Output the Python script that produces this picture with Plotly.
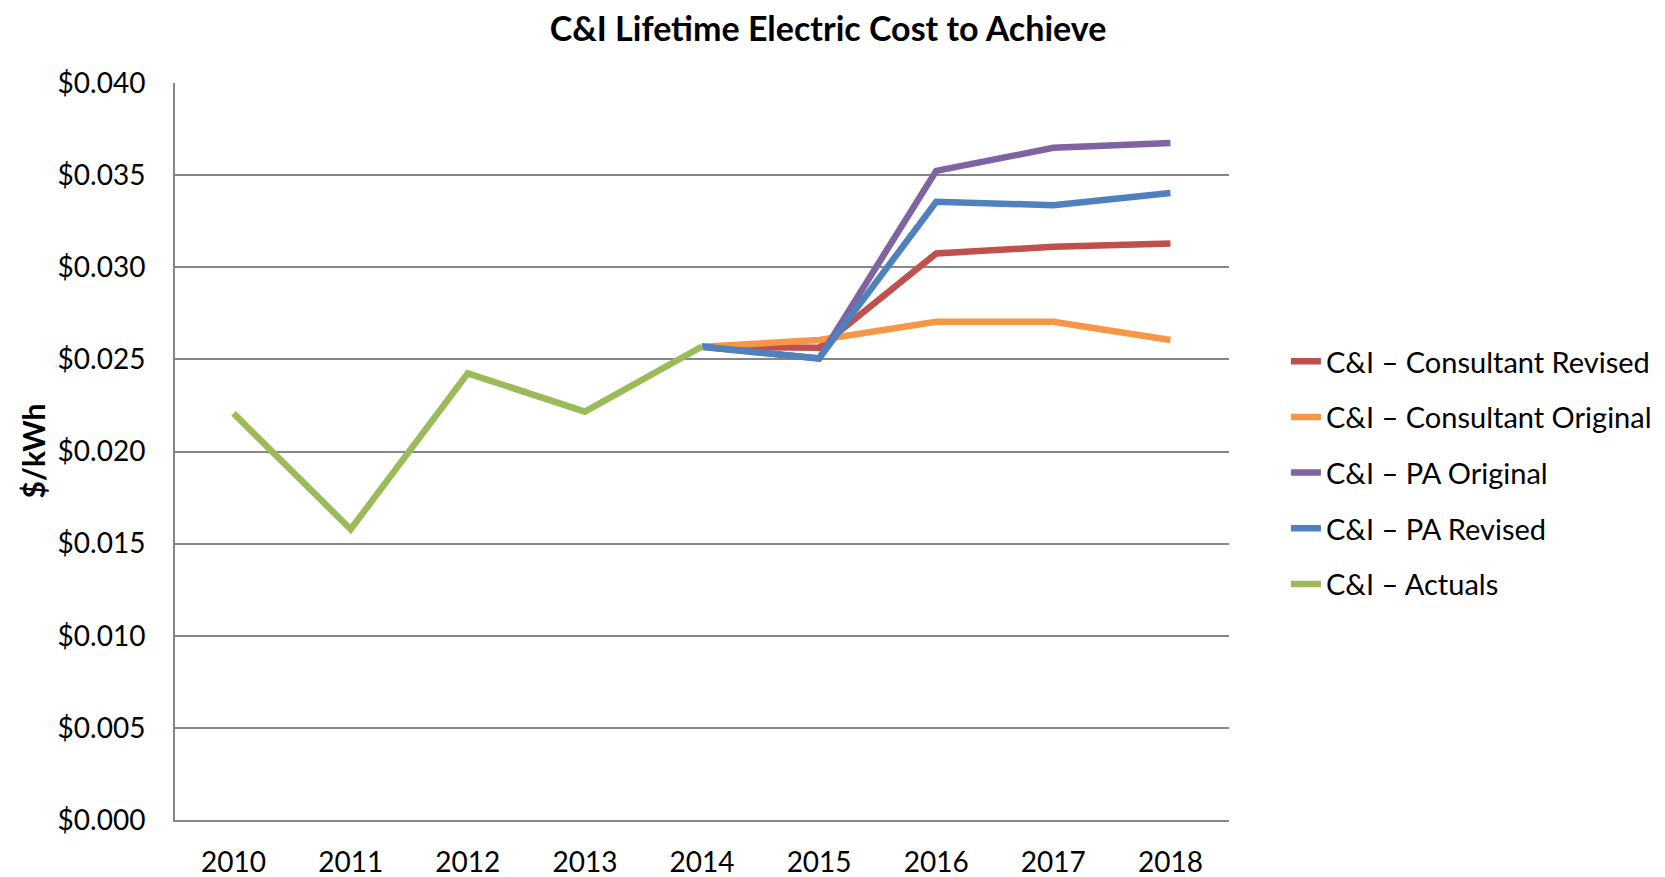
import plotly.graph_objects as go

years = ["2010", "2011", "2012", "2013", "2014", "2015", "2016", "2017", "2018"]
consultant_revised = [None, None, None, None, 0.02568, 0.02563, 0.03075, 0.03111, 0.03129]
consultant_original = [None, None, None, None, 0.02568, 0.02605, 0.02704, 0.02704, 0.02605]
pa_original = [None, None, None, None, 0.02568, 0.02505, 0.03523, 0.03648, 0.03675]
pa_revised = [None, None, None, None, 0.02568, 0.02505, 0.03355, 0.03337, 0.03403]
actuals = [0.02207, 0.01578, 0.02424, 0.02216, 0.02570, None, None, None, None]

series = [
    ("C&I – Consultant Revised", consultant_revised, "#C0504D"),
    ("C&I – Consultant Original", consultant_original, "#F79646"),
    ("C&I – PA Original", pa_original, "#8064A2"),
    ("C&I – PA Revised", pa_revised, "#4F81BD"),
    ("C&I – Actuals", actuals, "#9BBB59"),
]

FONT = "Lato"
FS = 28
W, H = 1657, 869

fig = go.Figure()
for i, (name, vals, color) in enumerate(series):
    fig.add_trace(go.Scatter(
        x=years, y=vals, name=name, mode="lines",
        line=dict(color=color, width=6.5),
        legendgroup=f"g{i}",
    ))

fig.update_layout(
    width=W, height=H,
    margin=dict(l=167, r=436, t=75, b=57, autoexpand=False),
    paper_bgcolor="white", plot_bgcolor="white",
    font=dict(family=FONT, size=FS, color="black"),
    title=dict(text="<b>C&I Lifetime Electric Cost to Achieve</b>",
               x=820 / W, xref="container", xanchor="center",
               y=1 - 21 / H, yref="container", yanchor="middle",
               font=dict(family=FONT, size=34, color="black")),
    showlegend=True,
    legend=dict(x=1.054, xanchor="left", y=0.471, yanchor="middle",
                tracegroupgap=15, font=dict(family=FONT, size=29),
                bgcolor="rgba(0,0,0,0)", itemwidth=30),
    xaxis=dict(type="category", range=[-0.5, 8.5], showgrid=False,
               showline=True, linecolor="#868686", linewidth=2,
               ticks="", ticklabelstandoff=16, fixedrange=True),
    yaxis=dict(range=[0, 0.04], dtick=0.005, tick0=0, tickformat="$.3f",
               showgrid=True, gridcolor="#868686", gridwidth=2,
               showline=True, linecolor="#868686", linewidth=2,
               ticks="", ticklabelstandoff=22, zeroline=False, fixedrange=True),
    annotations=[dict(text="<b>$/kWh</b>", x=0, xref="paper", y=0.5, yref="paper",
                      xshift=-143, textangle=-90, showarrow=False,
                      xanchor="center", yanchor="middle",
                      font=dict(family=FONT, size=30, color="black"))],
)

fig.write_html("out.html")
